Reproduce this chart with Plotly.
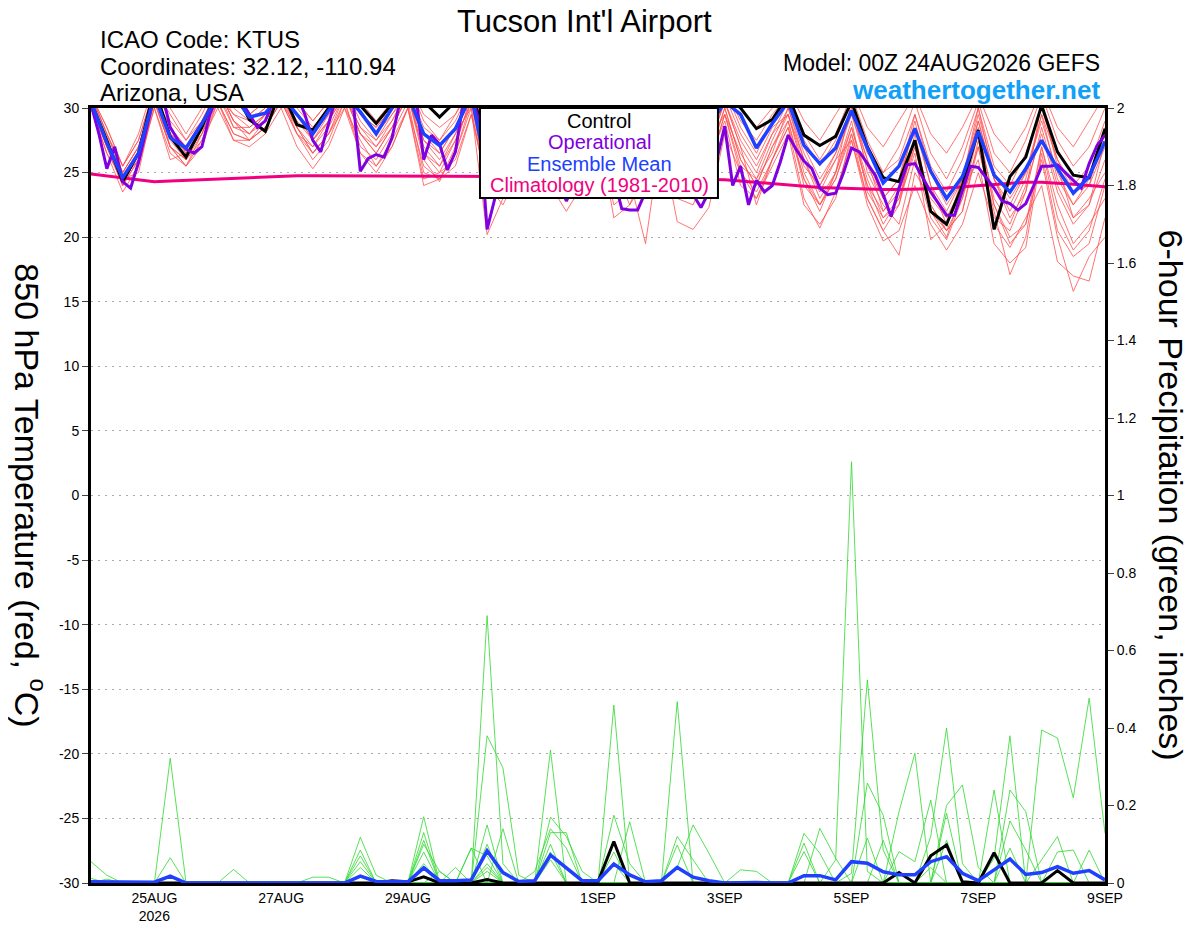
import plotly.graph_objects as go
import pandas as pd

# 6-hourly GEFS output times, 3-hourly for the operational run
times_6h = pd.date_range("2026-08-24 00:00", periods=65, freq="6h")
times_3h = pd.date_range("2026-08-24 00:00", periods=129, freq="3h")

# 850 hPa temperature (C)
control_t = [30.5, 27.5, 24.3, 26.5, 31.5, 27.8, 26.2, 28.5,
             31.5, 31.5, 29.1, 28.2, 31.5, 28.7, 28.3, 30.0,
             31.5, 30.2, 28.8, 30.3, 31.5, 30.5, 29.3, 30.5,
             31.5, 27.0, 27.5, 29.0, 31.0, 28.0, 27.0, 29.0,
             31.0, 27.5, 26.5, 28.0, 31.0, 28.5, 27.5, 29.5,
             31.0, 30.0, 28.4, 29.1, 31.0, 27.9, 27.1, 27.8,
             30.5, 27.0, 24.6, 24.3, 27.5, 22.0, 21.0, 24.0,
             28.3, 20.6, 24.7, 26.2, 30.2, 26.6, 24.8, 24.6,
             28.4]
mean_t = [30.5, 27.3, 24.6, 26.5, 31.0, 27.7, 26.9, 28.8,
          31.0, 31.0, 29.3, 29.6, 31.0, 29.5, 28.0, 29.8,
          31.0, 29.7, 28.0, 30.0, 31.0, 28.0, 27.1, 28.4,
          31.0, 25.0, 26.0, 28.0, 30.5, 27.0, 26.0, 28.0,
          30.5, 26.5, 25.5, 27.0, 30.0, 27.0, 26.5, 28.5,
          30.5, 29.5, 26.9, 28.8, 30.5, 27.1, 25.7, 26.9,
          29.8, 26.9, 24.2, 25.5, 28.4, 25.1, 23.0, 24.7,
          28.2, 24.8, 23.5, 25.3, 27.5, 25.3, 23.4, 24.7,
          27.4]
operational_t = [30.3, 28.0, 25.3, 27.0, 24.3, 23.8, 25.8, 28.5,
                 31.0, 31.0, 28.5, 27.5, 26.8, 26.5, 27.0, 29.5,
                 31.0, 31.0, 31.0, 30.5, 29.5, 28.5, 29.0, 30.5,
                 31.0, 31.0, 31.0, 29.5, 27.5, 26.6, 28.8, 31.0,
                 31.0, 31.0, 25.1, 26.1, 26.4, 26.2, 27.7, 30.5,
                 31.0, 31.0, 26.0, 27.9, 27.2, 25.2, 26.6, 30.5,
                 31.0, 29.0, 20.6, 23.0, 25.5, 27.5, 26.0, 25.0,
                 28.0, 30.0, 27.0, 24.5, 22.8, 24.0, 26.5, 28.0,
                 29.5, 27.0, 24.5, 22.2, 22.1, 22.1, 23.5, 26.0,
                 28.0, 26.5, 25.0, 24.0, 23.3, 22.3, 23.5, 26.0,
                 28.6, 24.0, 25.5, 22.5, 24.4, 23.5, 24.0, 25.8,
                 27.9, 26.8, 25.9, 25.3, 23.8, 23.3, 23.4, 25.0,
                 26.9, 26.6, 25.7, 24.8, 23.3, 21.6, 23.8, 25.6,
                 25.7, 24.6, 23.5, 22.6, 21.7, 21.7, 23.6, 25.5,
                 25.4, 24.6, 23.8, 22.8, 22.6, 22.1, 22.6, 24.0,
                 25.5, 25.5, 25.6, 25.0, 24.4, 23.8, 25.7, 27.1,
                 27.9]
climatology_t = [24.9, 24.75, 24.6, 24.45, 24.3, 24.35, 24.4, 24.45,
                 24.5, 24.55, 24.6, 24.65, 24.75, 24.75, 24.75, 24.75,
                 24.7, 24.7, 24.7, 24.7, 24.7, 24.7, 24.7, 24.7,
                 24.7, 24.7, 24.7, 24.7, 24.68, 24.66, 24.64, 24.62,
                 24.6, 24.6, 24.58, 24.56, 24.55, 24.54, 24.52, 24.5,
                 24.45, 24.35, 24.25, 24.1, 24.0, 23.9, 23.85, 23.8,
                 23.75, 23.7, 23.7, 23.7, 23.7, 23.75, 23.8, 23.9,
                 24.0, 24.1, 24.2, 24.25, 24.25, 24.2, 24.1, 24.0,
                 23.9]

# ensemble members, 4 values per day
member_t01 = [31, 28.5, 25.5, 27.5, 31.5, 29.5, 27.5, 29.5, 32, 30.5, 29.5, 30.5, 32, 30.5, 29, 30.5,
              32, 30.5, 29, 30.5, 32, 29.5, 28.5, 29.5, 32, 28.5, 27.5, 29.5, 31.5, 28.5, 27.5, 29.5,
              31.5, 28.5, 27.5, 29.5, 31.5, 29, 28, 30, 32, 30, 28.5, 30, 31.5, 29, 27.5, 29.5,
              31.5, 28.5, 27, 29, 31, 28, 26.5, 28.5, 31, 28, 26.5, 28.5, 31.5, 28.5, 27, 29, 31]
member_t02 = [30.5, 27.5, 24.5, 26.5, 31, 28, 26.5, 28.5, 31.5, 29, 28, 29.5, 31.5, 29.5, 27.5, 29,
              31.5, 29, 27.5, 29.5, 31.5, 28, 26.5, 28.5, 31.5, 26.5, 25.5, 28, 31, 27, 25.5, 28,
              31, 26.5, 25, 27.5, 31, 27, 25.5, 28.5, 31.5, 28.5, 26.5, 29, 31, 27.5, 25.5, 27.5,
              30.5, 26.5, 25, 26, 29.5, 25.5, 23.5, 26, 30, 25.5, 24, 26.5, 30, 26, 24, 25.5, 29]
member_t03 = [30.5, 27, 24, 26, 30.5, 27, 25.5, 28, 31, 28.5, 28, 29, 31, 28.5, 26.5, 28,
              31, 28, 26.5, 28.5, 31, 26.5, 25.5, 27.5, 30.5, 24, 23.5, 26.5, 30, 25.5, 24, 26.5,
              30, 25, 24, 26.5, 30.5, 26, 24, 27, 30.5, 27, 25, 28, 29.5, 25.5, 24, 26,
              29.5, 25.5, 23, 24.5, 28.5, 24, 22, 24.5, 29, 24.5, 22.5, 25, 29, 25, 22.5, 24, 28.5]
member_t04 = [30, 26.5, 23.5, 25.5, 30, 26.5, 25.5, 27.5, 30.5, 28, 27.5, 28.5, 30.5, 28, 26, 27.5,
              30.5, 27, 26, 28, 30.5, 25, 24.5, 26.5, 30, 23.5, 23, 25.5, 29.5, 24.5, 23, 25.5,
              29.5, 23.5, 23, 25, 29.5, 24.5, 23, 26, 30, 26, 24, 27, 29, 24.5, 22.5, 25,
              28.5, 24, 21, 23, 27.5, 22.5, 20.5, 23, 28, 23, 21, 24, 28, 23.5, 21, 22.5, 27.5]
member_t05 = [30.5, 27, 24, 26.5, 31, 27.5, 26, 28.5, 31.5, 28.5, 28.5, 29.5, 31, 28, 27, 29,
              31, 28.5, 27.5, 29, 31.5, 27.5, 26, 28, 30, 20.2, 23, 26, 29.5, 25, 23.5, 26,
              29, 24.5, 24.5, 19.5, 28, 23, 22.5, 25.5, 29.5, 26.5, 24.5, 27.5, 30, 26, 23, 25,
              30.5, 25, 22.5, 21, 26, 21.5, 19.8, 23, 27, 21.5, 20.5, 23.5, 28.5, 24, 21.5, 23, 25]
member_t06 = [31, 28, 25, 27, 31, 28.5, 26.5, 28.5, 31.5, 29, 28, 29.5, 31.5, 29.5, 28, 29.5,
              31.5, 29.5, 28, 29.5, 31, 26, 24.3, 27, 31, 25, 24, 27, 30, 26, 24.5, 27.5,
              30.5, 26.5, 24.5, 27, 30, 25.5, 24.5, 27.5, 30.5, 27, 22.5, 26, 28.5, 23, 20.7, 23.5,
              27.5, 23, 20.5, 18.6, 25, 23, 21.5, 24, 29, 24.5, 22, 24.5, 29.5, 24.5, 22.5, 24.5, 28]
member_t07 = [30, 26.5, 24.5, 25, 30.5, 27, 26, 27.5, 30, 27.5, 27, 28, 30, 27, 25.3, 27,
              30, 26.5, 25.5, 27.5, 30, 24.5, 25, 26, 29.5, 24, 22.5, 25, 29, 24, 22.8, 24.5,
              28, 22.5, 23.5, 24.5, 27.5, 21.2, 20.6, 22.3, 28, 25, 23.5, 26, 28.5, 24.5, 22, 25,
              29, 23.5, 21.5, 22.5, 28, 22.5, 20.5, 22, 27, 22, 17.1, 20, 27, 22.5, 19.5, 21, 23]
member_t08 = [30.5, 27.5, 25, 27, 31, 28.5, 27, 29, 31, 29.5, 28.5, 29.5, 31, 29, 27.5, 29,
              31, 28, 26.5, 28.5, 31, 27, 25.5, 28, 31, 27, 25, 27.5, 30.5, 26.5, 25, 27.5,
              30.5, 26, 25.5, 27, 30.5, 26.5, 25, 27.5, 29.5, 25, 23, 26, 29, 24, 22.5, 24.5,
              28, 24, 22, 23.5, 27, 22, 20, 23.5, 28.5, 22.5, 20, 21, 26, 20, 15.8, 18.5, 20]
member_t09 = [31, 28, 25.5, 27.5, 31.5, 29, 27.5, 29, 31.5, 30, 29, 30, 31.5, 30, 28.5, 30,
              31.5, 29.5, 28.5, 30, 31.5, 28.5, 27.5, 29, 31.5, 27.5, 26.5, 28.5, 31, 27.5, 26, 28.5,
              31, 27.5, 26, 28, 31, 28, 26.5, 29, 31, 28, 26, 28.5, 29.5, 26, 23.5, 26,
              27.5, 22.5, 19.7, 20.5, 24, 21, 19.0, 21, 25, 21, 19.2, 21.5, 24, 18.1, 17, 16.6, 21.5]
member_t10 = [30, 27, 24.5, 26, 30.5, 27, 25.5, 27, 30.5, 28, 27.5, 28.5, 30.5, 28, 26.5, 28,
              30, 27.5, 25.5, 27, 30, 25.5, 24.5, 26.5, 30.5, 26, 24.5, 26.5, 30, 25.5, 23.5, 26.5,
              29.5, 25.5, 22.5, 25.5, 29.5, 25.5, 23.5, 26.5, 30, 26, 24, 27, 29.5, 25, 22.5, 24.5,
              28.5, 24.5, 21.5, 23, 26.5, 19.8, 21, 23.5, 26, 19.5, 18, 19.2, 26.5, 20.5, 18.5, 19.5, 24]
member_t11 = [30.5, 27.5, 24.5, 26.5, 31, 27, 26, 28, 31.5, 29, 27.5, 29, 31, 28.5, 27, 28.5,
              31, 28, 27, 28.5, 31, 26.5, 25, 27.5, 30.5, 25, 23.5, 25.5, 29, 24, 22, 24,
              28.5, 21.5, 22.5, 24.5, 29, 24, 23.5, 25.5, 29.5, 25.5, 24.5, 26.5, 30, 26.5, 24, 26.5,
              30, 26, 23, 24.5, 29.5, 25, 22.5, 24.5, 29.5, 25, 23, 25, 29.5, 26, 23.5, 24, 27]
member_t12 = [31, 28.5, 25.5, 28, 32, 30, 28, 30, 32, 30.5, 29.5, 30.5, 32, 30.5, 29, 30.5,
              32, 29.5, 28.5, 30, 32, 29, 27.5, 29.5, 31.5, 28, 27, 29, 31.5, 28, 26.5, 28.5,
              31, 27.5, 26.5, 28.5, 31, 28, 27, 29, 31.5, 29, 27.5, 29.5, 31, 28, 26, 28,
              31, 27.5, 25, 27, 30.5, 26.5, 24.5, 27, 30.5, 26.5, 25, 27.5, 31, 27.5, 25.5, 27, 30]
member_t13 = [30, 27, 24, 26, 30, 26, 26.5, 28, 30.5, 27.5, 27.5, 28.5, 30.5, 28.5, 26.5, 28,
              30.5, 26.5, 25, 27, 30, 24, 24.5, 25.5, 29.5, 24.5, 24, 25.5, 29.5, 24.5, 23, 25.5,
              29, 24, 23, 25.5, 29, 24.5, 23.5, 26, 29, 24, 23, 25.5, 28, 22.5, 21, 23,
              28, 23, 20.5, 22.5, 27, 22, 20.5, 22, 27.5, 22.5, 19.5, 21, 27, 21.5, 19, 20.5, 24.5]
member_t14 = [31, 28, 25, 27, 31, 28, 27, 29, 31.5, 29.5, 29, 30, 31.5, 29.5, 27.5, 29.5,
              31, 28.5, 27, 29, 31, 27.5, 26.5, 28.5, 31, 26.5, 25.5, 28, 30.5, 27, 25, 27.5,
              30.5, 26.5, 25, 27, 30, 26, 25, 27, 30.5, 27.5, 25.5, 28, 30.5, 27, 24.5, 26.5,
              29.5, 26, 22, 24, 29, 24, 21, 24.5, 30, 24.5, 21.5, 23.5, 30.5, 25.5, 21.5, 22.5, 26]
members_t = [member_t01, member_t02, member_t03, member_t04, member_t05, member_t06, member_t07,
             member_t08, member_t09, member_t10, member_t11, member_t12, member_t13, member_t14]

# 6-hour precipitation (inches)
control_p = [0, 0, 0, 0, 0, 0, 0, 0,
             0, 0, 0, 0, 0, 0, 0, 0,
             0, 0, 0, 0.006, 0.003, 0.016, 0, 0,
             0, 0.009, 0, 0, 0, 0, 0, 0,
             0.003, 0.107, 0, 0, 0, 0, 0, 0,
             0, 0, 0, 0, 0, 0, 0, 0,
             0, 0, 0, 0.027, 0, 0.07, 0.098, 0.003,
             0, 0.078, 0, 0, 0, 0.032, 0, 0,
             0]
mean_p = [0.003, 0.003, 0.002, 0.002, 0.002, 0.018, 0, 0,
          0, 0.002, 0, 0, 0, 0, 0.001, 0.001,
          0, 0.018, 0.004, 0.003, 0.003, 0.039, 0.006, 0.006,
          0.008, 0.083, 0.027, 0.004, 0.006, 0.072, 0.038, 0.006,
          0.006, 0.049, 0.021, 0.003, 0.006, 0.04, 0.015, 0.006,
          0, 0.001, 0.001, 0, 0, 0.019, 0.019, 0.008,
          0.055, 0.051, 0.029, 0.021, 0.021, 0.055, 0.068, 0.025,
          0.006, 0.034, 0.062, 0.022, 0.027, 0.042, 0.025, 0.032,
          0.008]

member_p01 = [0.055, 0.02, 0, 0, 0, 0, 0, 0,  0, 0, 0, 0, 0, 0, 0, 0,
              0, 0.118, 0.02, 0, 0, 0, 0, 0,  0, 0.38, 0.297, 0.02, 0, 0, 0, 0,
              0, 0, 0, 0, 0, 0, 0, 0,  0, 0, 0, 0, 0, 0.128, 0.077, 0,
              0, 0, 0, 0, 0, 0, 0, 0,  0, 0, 0, 0, 0, 0, 0, 0.085,  0]
member_p02 = [0.012, 0, 0, 0, 0, 0.322, 0, 0,  0, 0, 0, 0, 0, 0, 0, 0,
              0, 0, 0, 0, 0, 0.171, 0, 0,  0, 0.15, 0, 0, 0, 0.13, 0.13, 0,
              0, 0.05, 0, 0, 0, 0, 0, 0,  0, 0, 0, 0, 0, 0.103, 0, 0,
              0, 0, 0, 0, 0, 0.04, 0, 0,  0, 0, 0.09, 0, 0, 0, 0, 0,  0]
member_p03 = [0, 0.01, 0, 0, 0, 0.065, 0, 0,  0, 0, 0, 0, 0, 0, 0, 0,
              0, 0, 0, 0, 0, 0.13, 0, 0,  0, 0, 0.14, 0, 0, 0.343, 0, 0,
              0, 0, 0, 0, 0, 0, 0, 0,  0, 0.034, 0.03, 0, 0, 0, 0, 0,
              0, 0, 0, 0, 0, 0, 0.18, 0,  0, 0, 0, 0, 0, 0, 0, 0,  0]
member_p04 = [0, 0, 0, 0, 0, 0.02, 0, 0,  0, 0, 0, 0, 0, 0, 0, 0,
              0, 0.085, 0, 0, 0, 0, 0, 0,  0, 0.69, 0.05, 0, 0, 0, 0, 0,
              0, 0, 0, 0, 0, 0, 0, 0,  0, 0, 0, 0, 0, 0.081, 0, 0,
              0, 0, 0, 0, 0, 0, 0.11, 0,  0, 0.24, 0, 0, 0, 0, 0, 0,  0]
member_p05 = [0, 0, 0, 0, 0, 0, 0, 0,  0, 0.035, 0, 0, 0, 0, 0, 0,
              0, 0, 0, 0, 0, 0.11, 0, 0,  0, 0, 0, 0, 0, 0.17, 0.12, 0.03,
              0, 0.175, 0.05, 0, 0, 0, 0, 0,  0, 0, 0, 0, 0, 0, 0.141, 0.064,
              0, 0, 0, 0, 0, 0, 0, 0,  0, 0.064, 0.38, 0, 0, 0, 0, 0,  0]
member_p06 = [0, 0, 0, 0, 0, 0, 0, 0,  0, 0, 0, 0, 0, 0, 0.015, 0.015,
              0, 0, 0, 0, 0, 0.10, 0.03, 0,  0, 0, 0, 0, 0.03, 0.14, 0.09, 0,
              0, 0, 0, 0, 0, 0, 0, 0,  0, 0, 0, 0, 0, 0, 0, 0.06,
              1.087, 0.03, 0, 0, 0, 0, 0, 0,  0, 0, 0.24, 0.184, 0, 0, 0, 0,  0]
member_p07 = [0, 0, 0, 0, 0, 0, 0, 0,  0, 0, 0, 0, 0, 0, 0, 0,
              0, 0.07, 0, 0, 0, 0, 0, 0.04,  0, 0.10, 0, 0, 0, 0, 0, 0,
              0, 0, 0.158, 0, 0, 0, 0, 0,  0, 0, 0, 0, 0, 0, 0, 0,
              0.025, 0.524, 0.085, 0, 0, 0, 0, 0,  0, 0, 0.16, 0.085, 0, 0, 0, 0,  0]
member_p08 = [0, 0, 0, 0, 0, 0, 0, 0,  0, 0, 0, 0, 0, 0, 0, 0,
              0, 0.055, 0, 0, 0, 0, 0, 0,  0.09, 0.07, 0, 0, 0, 0, 0, 0,
              0, 0.459, 0, 0, 0, 0, 0, 0,  0, 0, 0, 0, 0, 0, 0, 0,
              0, 0.258, 0.175, 0, 0, 0, 0, 0,  0, 0, 0, 0, 0.06, 0.12, 0, 0,  0]
member_p09 = [0, 0, 0, 0, 0, 0, 0, 0,  0, 0, 0, 0, 0, 0, 0, 0,
              0, 0.04, 0, 0, 0, 0, 0.03, 0,  0, 0.05, 0, 0, 0, 0, 0, 0,
              0, 0.08, 0, 0, 0, 0.468, 0, 0,  0, 0, 0, 0, 0, 0, 0, 0,
              0, 0.116, 0, 0, 0, 0, 0, 0,  0, 0, 0, 0, 0, 0.08, 0.085, 0,  0]
member_p10 = [0, 0, 0, 0, 0, 0, 0, 0,  0, 0, 0, 0, 0, 0, 0, 0,
              0, 0, 0, 0, 0, 0.08, 0, 0,  0.09, 0, 0, 0, 0, 0.10, 0, 0,
              0, 0, 0, 0, 0, 0.12, 0.06, 0,  0, 0, 0, 0, 0, 0, 0, 0,
              0, 0, 0.11, 0, 0, 0, 0, 0,  0, 0, 0, 0, 0.395, 0.374, 0.22, 0.477,  0.128]
member_p11 = [0, 0, 0, 0, 0, 0, 0, 0,  0, 0, 0, 0, 0, 0, 0, 0,
              0, 0, 0, 0, 0, 0.05, 0, 0,  0, 0.04, 0, 0, 0, 0.08, 0, 0,
              0, 0, 0, 0, 0, 0.098, 0, 0,  0, 0, 0, 0, 0, 0, 0, 0,
              0, 0, 0, 0.184, 0.335, 0, 0, 0,  0, 0, 0, 0, 0, 0, 0, 0,  0]
member_p12 = [0, 0, 0, 0, 0, 0, 0, 0,  0, 0, 0, 0, 0, 0, 0, 0,
              0, 0, 0, 0, 0, 0, 0, 0,  0, 0.03, 0, 0, 0, 0.06, 0, 0,
              0, 0, 0, 0, 0, 0.04, 0.15, 0.077,  0, 0, 0, 0, 0, 0, 0, 0,
              0, 0, 0, 0.081, 0.055, 0.214, 0, 0,  0, 0, 0, 0, 0, 0, 0, 0,  0]
member_p13 = [0, 0, 0, 0, 0, 0, 0, 0,  0, 0, 0, 0, 0, 0, 0, 0,
              0, 0, 0, 0, 0, 0, 0, 0,  0, 0, 0, 0, 0, 0, 0, 0,
              0, 0, 0, 0, 0, 0, 0, 0,  0, 0, 0, 0, 0, 0, 0, 0,
              0, 0, 0, 0, 0, 0.12, 0.40, 0.05,  0, 0, 0, 0, 0, 0, 0, 0,  0]
member_p14 = [0, 0, 0, 0, 0, 0, 0, 0,  0, 0, 0, 0, 0, 0, 0, 0,
              0, 0, 0, 0, 0, 0, 0, 0,  0, 0, 0, 0, 0, 0, 0, 0,
              0, 0, 0, 0, 0, 0, 0, 0,  0, 0, 0, 0, 0, 0, 0, 0,
              0, 0, 0, 0, 0, 0, 0.20, 0.253,  0.04, 0, 0, 0, 0, 0, 0, 0,  0]
members_p = [member_p01, member_p02, member_p03, member_p04, member_p05, member_p06, member_p07,
             member_p08, member_p09, member_p10, member_p11, member_p12, member_p13, member_p14]

tick_dates = ["2026-08-25", "2026-08-27", "2026-08-29", "2026-09-01",
              "2026-09-03", "2026-09-05", "2026-09-07", "2026-09-09"]
tick_labels = ["25AUG<br>2026", "27AUG", "29AUG", "1SEP", "3SEP", "5SEP", "7SEP", "9SEP"]
temp_ticks = list(range(-30, 31, 5))
precip_ticks = [0, 0.2, 0.4, 0.6, 0.8, 1, 1.2, 1.4, 1.6, 1.8, 2]

FONT = "Liberation Sans, Arial, Helvetica, sans-serif"
RED = "#ff5050"
GREEN = "#2fd82f"
PURPLE = "#8000e0"
BLUE = "#2040ff"
MAGENTA = "#f0007f"

fig = go.Figure()

for m in members_t:
    fig.add_trace(go.Scatter(x=times_6h, y=m, mode="lines",
                             line=dict(color=RED, width=0.8), hoverinfo="skip"))
fig.add_trace(go.Scatter(x=times_6h, y=climatology_t, mode="lines",
                         line=dict(color=MAGENTA, width=3)))
fig.add_trace(go.Scatter(x=times_6h, y=control_t, mode="lines",
                         line=dict(color="black", width=3)))
fig.add_trace(go.Scatter(x=times_3h, y=operational_t, mode="lines",
                         line=dict(color=PURPLE, width=3)))
fig.add_trace(go.Scatter(x=times_6h, y=mean_t, mode="lines",
                         line=dict(color=BLUE, width=3.5)))

for m in members_p:
    fig.add_trace(go.Scatter(x=times_6h, y=m, mode="lines", yaxis="y2",
                             line=dict(color=GREEN, width=0.8), hoverinfo="skip"))
fig.add_trace(go.Scatter(x=times_6h, y=control_p, mode="lines", yaxis="y2",
                         line=dict(color="black", width=3)))
fig.add_trace(go.Scatter(x=times_6h, y=mean_p, mode="lines", yaxis="y2",
                         line=dict(color=BLUE, width=3.5)))

# the page body adds an 8px offset, margins compensate for it
fig.update_layout(
    width=1200, height=927,
    margin=dict(l=83, r=103, t=100, b=52),
    paper_bgcolor="white", plot_bgcolor="white",
    showlegend=False,
    font=dict(family=FONT, color="black", size=14),
    xaxis=dict(
        type="date", range=["2026-08-24 00:00", "2026-09-09 00:00"],
        tickvals=tick_dates, ticktext=tick_labels, ticks="",
        showline=True, linewidth=3, linecolor="black", mirror=True,
        showgrid=False, zeroline=False, tickfont=dict(size=14), automargin=False,
    ),
    yaxis=dict(
        range=[-30, 30], tickvals=temp_ticks, ticktext=[str(v) for v in temp_ticks],
        ticks="outside", ticklen=6, tickwidth=1,
        showline=True, linewidth=3, linecolor="black",
        showgrid=True, gridcolor="#aaaaaa", griddash="2px,5px", gridwidth=1,
        zeroline=False, tickfont=dict(size=14), automargin=False,
    ),
    yaxis2=dict(
        range=[0, 2], overlaying="y", side="right",
        tickvals=precip_ticks, ticktext=[f"{v:g}" for v in precip_ticks],
        ticks="outside", ticklen=6, tickwidth=1,
        showline=True, linewidth=3, linecolor="black",
        showgrid=False, zeroline=False, tickfont=dict(size=14), automargin=False,
    ),
)

# legend box
fig.add_shape(type="rect", xref="paper", yref="paper",
              x0=0.3836, x1=0.6183, y0=0.8839, y1=1.0,
              fillcolor="white", line=dict(color="black", width=2), layer="above")
legend_lines = [("Control", "black", 0.9832), ("Operational", PURPLE, 0.9561),
                ("Ensemble Mean", BLUE, 0.9277), ("Climatology (1981-2010)", MAGENTA, 0.9006)]
for txt, col, yy in legend_lines:
    fig.add_annotation(text=txt, xref="paper", yref="paper", x=0.501, y=yy,
                       xanchor="center", yanchor="middle",
                       showarrow=False, font=dict(size=20, color=col))

# titles and labels
fig.add_annotation(text="Tucson Int'l Airport", xref="paper", yref="paper",
                   x=0.487, y=1.111, xanchor="center", yanchor="middle",
                   showarrow=False, font=dict(size=31), borderpad=0)
for txt, yy in [("ICAO Code: KTUS", 1.088), ("Coordinates: 32.12, -110.94", 1.054),
                ("Arizona, USA", 1.0206)]:
    fig.add_annotation(text=txt, xref="paper", yref="paper", x=0.0069, y=yy,
                       xanchor="left", yanchor="middle", showarrow=False, font=dict(size=24))
fig.add_annotation(text="Model: 00Z 24AUG2026 GEFS", xref="paper", yref="paper",
                   x=0.996, y=1.0575, xanchor="right", yanchor="middle",
                   showarrow=False, font=dict(size=23), borderpad=0)
fig.add_annotation(text="<b>weathertogether.net</b>", xref="paper", yref="paper",
                   x=0.996, y=1.0235, xanchor="right", yanchor="middle", showarrow=False,
                   font=dict(size=26, color="#10a0f8"), borderpad=0)
fig.add_annotation(text="850 hPa Temperature (red, <sup>o</sup>C)", xref="paper", yref="paper",
                   x=-0.060, y=0.50, xanchor="center", yanchor="middle", textangle=90,
                   showarrow=False, font=dict(size=34))
fig.add_annotation(text="6-hour Precipitation (green, inches)", xref="paper", yref="paper",
                   x=1.066, y=0.50, xanchor="center", yanchor="middle", textangle=90,
                   showarrow=False, font=dict(size=34))

fig.write_html("out.html")
